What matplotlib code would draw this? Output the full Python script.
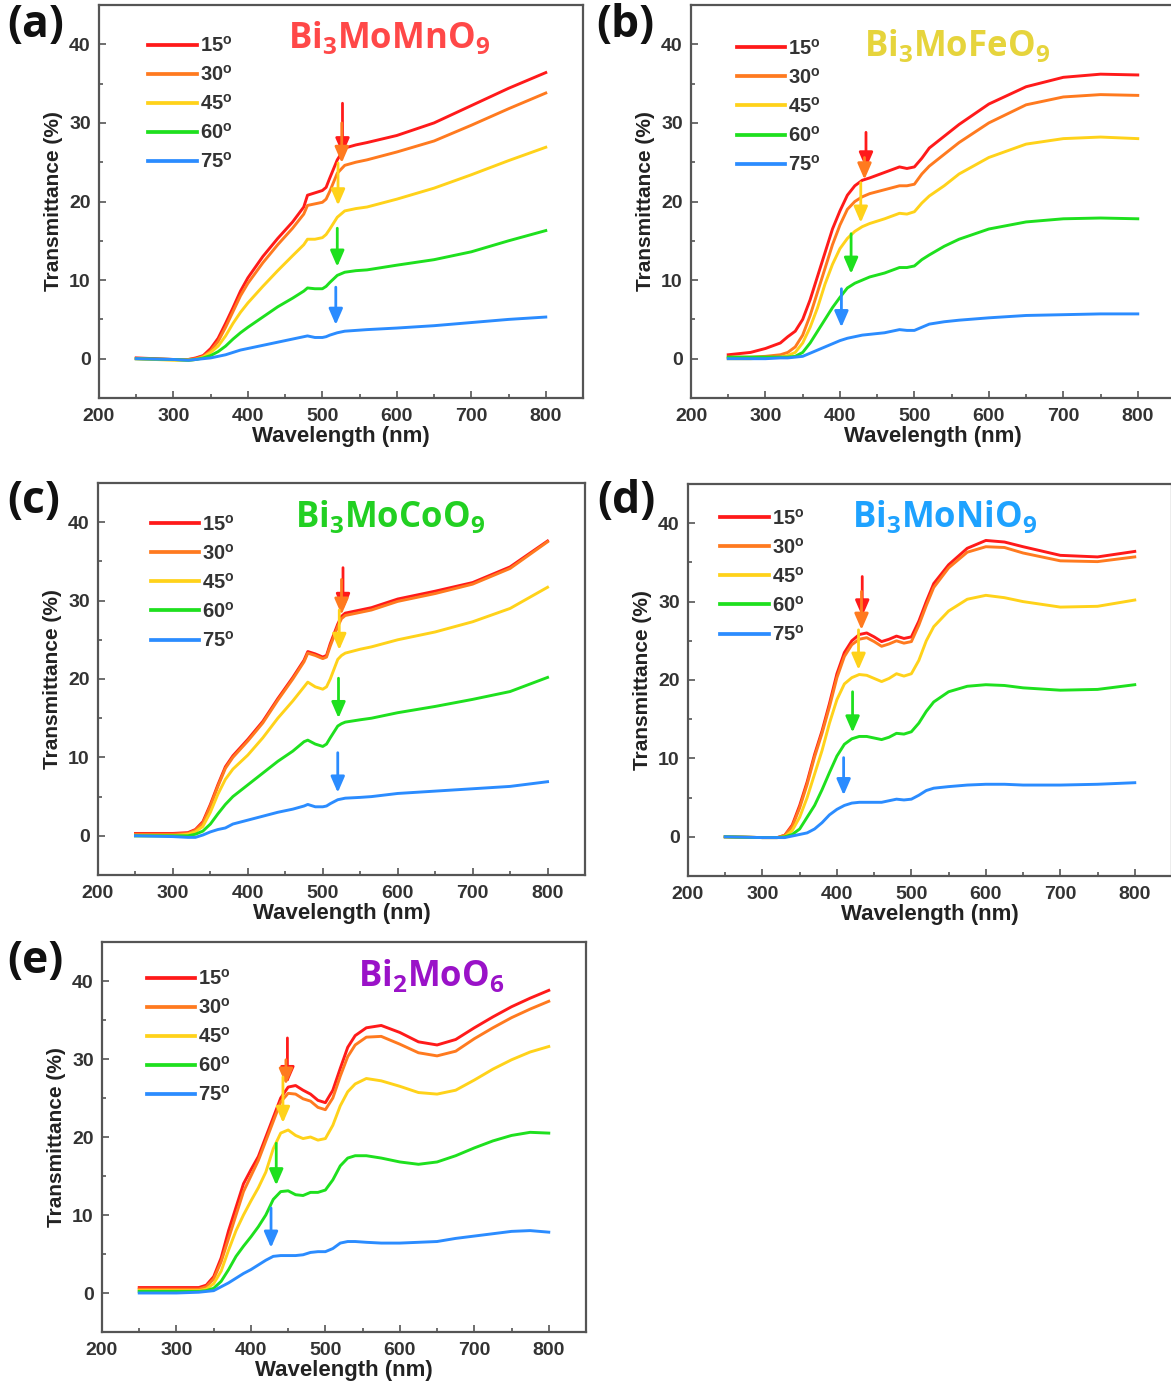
import matplotlib
matplotlib.use("Agg")
import matplotlib.pyplot as plt
from matplotlib.ticker import MultipleLocator

plt.rcParams['font.family'] = ['Liberation Sans', 'DejaVu Sans']
plt.rcParams['font.weight'] = 'bold'

# ---------------------------------------------------------------------------
# Data (transmittance in %, wavelength in nm)
# ---------------------------------------------------------------------------
ANGLES = ["15", "30", "45", "60", "75"]
LINE_COLORS = ['#ff1a1a', '#ff7a1f', '#ffd21a', '#1ee01e', '#2b8cff']

# (a) Bi3MoMnO9
WL_A = [250, 300, 320, 330, 340, 350, 360, 370, 380, 390, 400, 420, 440, 460, 475,
        480, 490, 500, 505, 510, 520, 530, 545, 560, 600, 650, 700, 750, 800]
A_15 = [0.1, -0.1, -0.1, 0.1, 0.4, 1.3, 2.6, 4.5, 6.5, 8.6, 10.3, 13.0, 15.3, 17.4, 19.3,
        20.8, 21.1, 21.4, 21.8, 23.0, 25.3, 26.8, 27.2, 27.5, 28.4, 30.0, 32.2, 34.4, 36.4]
A_30 = [0.0, -0.1, -0.1, 0.0, 0.3, 1.0, 2.2, 4.0, 6.0, 8.0, 9.6, 12.2, 14.5, 16.6, 18.4,
        19.5, 19.7, 19.9, 20.3, 21.3, 23.6, 24.6, 25.0, 25.3, 26.3, 27.7, 29.7, 31.8, 33.8]
A_45 = [0.0, -0.2, -0.2, -0.1, 0.2, 0.8, 1.6, 2.9, 4.5, 5.9, 7.1, 9.2, 11.2, 13.1, 14.5,
        15.2, 15.2, 15.4, 15.8, 16.5, 18.0, 18.8, 19.1, 19.3, 20.3, 21.7, 23.4, 25.2, 26.9]
A_60 = [0.0, -0.1, -0.2, -0.1, 0.1, 0.4, 0.9, 1.6, 2.5, 3.3, 4.0, 5.3, 6.6, 7.7, 8.6,
        9.0, 8.9, 8.9, 9.2, 9.7, 10.6, 11.0, 11.2, 11.3, 11.9, 12.6, 13.6, 15.0, 16.3]
A_75 = [0.0, -0.1, -0.2, -0.1, 0.0, 0.1, 0.3, 0.5, 0.8, 1.1, 1.3, 1.7, 2.1, 2.5, 2.8,
        2.9, 2.7, 2.7, 2.8, 3.0, 3.3, 3.5, 3.6, 3.7, 3.9, 4.2, 4.6, 5.0, 5.3]
ARROW_X_A = [527, 526, 521, 520, 518]
ARROW_TOP_A = [32.5, 30.0, 24.9, 16.6, 9.1]
ARROW_TIP_A = [26.0, 24.9, 19.5, 11.7, 4.3]

# (b) Bi3MoFeO9
WL_B = [250, 280, 300, 320, 330, 340, 350, 360, 370, 380, 390, 400, 410, 420, 430,
        440, 460, 480, 490, 500, 510, 520, 540, 560, 600, 650, 700, 750, 800]
B_15 = [0.5, 0.8, 1.3, 2.0, 2.8, 3.5, 5.0, 7.5, 10.5, 13.5, 16.5, 18.8, 20.8, 22.0, 22.7,
        23.0, 23.7, 24.4, 24.2, 24.4, 25.5, 26.8, 28.3, 29.8, 32.4, 34.6, 35.8, 36.2, 36.1]
B_30 = [0.2, 0.2, 0.3, 0.5, 0.8, 1.5, 3.0, 5.5, 8.5, 11.5, 14.5, 17.0, 19.0, 20.0, 20.6,
        21.0, 21.5, 22.0, 22.0, 22.2, 23.5, 24.5, 26.0, 27.5, 30.0, 32.3, 33.3, 33.6, 33.5]
B_45 = [0.0, 0.0, 0.1, 0.2, 0.4, 0.8, 2.0, 4.0, 6.5, 9.5, 12.0, 14.0, 15.3, 16.2, 16.8,
        17.2, 17.8, 18.5, 18.4, 18.7, 19.8, 20.7, 22.0, 23.5, 25.6, 27.3, 28.0, 28.2, 28.0]
B_60 = [0.2, 0.2, 0.2, 0.2, 0.2, 0.3, 0.8, 2.0, 3.5, 5.0, 6.5, 7.8, 9.0, 9.6, 10.0,
        10.4, 10.9, 11.6, 11.6, 11.8, 12.6, 13.2, 14.3, 15.2, 16.5, 17.4, 17.8, 17.9, 17.8]
B_75 = [0.0, 0.0, 0.0, 0.1, 0.1, 0.2, 0.3, 0.7, 1.1, 1.5, 1.9, 2.3, 2.6, 2.8, 3.0,
        3.1, 3.3, 3.7, 3.6, 3.6, 4.0, 4.4, 4.7, 4.9, 5.2, 5.5, 5.6, 5.7, 5.7]
ARROW_X_B = [435, 433, 428, 415, 402]
ARROW_TOP_B = [28.8, 25.6, 22.4, 15.9, 8.9]
ARROW_TIP_B = [24.2, 22.8, 17.3, 10.8, 4.0]

# (c) Bi3MoCoO9
WL_C = [250, 300, 320, 330, 340, 350, 360, 370, 380, 400, 420, 440, 460, 475, 480,
        490, 500, 505, 510, 520, 525, 530, 550, 565, 600, 650, 700, 750, 800]
C_15 = [0.3, 0.3, 0.4, 0.8, 1.8, 4.0, 6.5, 8.8, 10.2, 12.3, 14.6, 17.5, 20.2, 22.4, 23.5,
        23.2, 22.8, 23.0, 24.5, 27.0, 28.0, 28.4, 28.8, 29.1, 30.2, 31.2, 32.3, 34.3, 37.6]
C_30 = [0.2, 0.2, 0.3, 0.7, 1.6, 3.8, 6.3, 8.6, 10.0, 12.1, 14.4, 17.3, 20.0, 22.2, 23.3,
        23.0, 22.6, 22.8, 24.2, 26.7, 27.7, 28.1, 28.5, 28.8, 29.9, 30.9, 32.1, 34.1, 37.5]
C_45 = [0.0, 0.0, 0.2, 0.5, 1.2, 3.0, 5.3, 7.2, 8.5, 10.3, 12.5, 15.0, 17.2, 19.0, 19.6,
        19.0, 18.7, 19.0, 20.0, 22.5, 23.0, 23.3, 23.8, 24.1, 25.0, 26.0, 27.3, 29.0, 31.7]
C_60 = [0.0, 0.0, 0.0, 0.2, 0.6, 1.5, 2.8, 4.0, 5.0, 6.5, 8.0, 9.5, 10.8, 12.0, 12.2,
        11.7, 11.4, 11.7, 12.5, 14.0, 14.3, 14.5, 14.8, 15.0, 15.7, 16.5, 17.4, 18.4, 20.2]
C_75 = [0.0, -0.1, -0.2, -0.2, 0.1, 0.5, 0.8, 1.0, 1.5, 2.0, 2.5, 3.0, 3.4, 3.8, 4.0,
        3.7, 3.7, 3.8, 4.1, 4.6, 4.7, 4.8, 4.9, 5.0, 5.4, 5.7, 6.0, 6.3, 6.9]
ARROW_X_C = [527, 525, 522, 521, 520]
ARROW_TOP_C = [34.2, 32.7, 28.8, 20.1, 10.6]
ARROW_TIP_C = [28.8, 28.2, 23.7, 15.0, 5.5]

# (d) Bi3MoNiO9
WL_D = [250, 300, 320, 330, 340, 350, 360, 370, 380, 390, 400, 410, 420, 430, 440, 450,
        460, 470, 480, 490, 500, 510, 520, 530, 550, 575, 600, 625, 650, 700, 750, 800]
D_15 = [0.0, -0.1, -0.1, 0.2, 1.5, 4.0, 7.0, 10.5, 13.5, 17.0, 20.8, 23.5, 25.0, 25.8, 26.0, 25.5,
        24.9, 25.2, 25.6, 25.3, 25.5, 27.5, 30.0, 32.3, 34.7, 36.8, 37.8, 37.6, 37.0, 35.9, 35.7, 36.4]
D_30 = [0.0, -0.1, -0.1, 0.2, 1.3, 3.7, 6.7, 10.2, 13.2, 16.6, 20.3, 23.0, 24.5, 25.2, 25.4, 24.9,
        24.3, 24.6, 25.0, 24.7, 24.9, 27.0, 29.5, 31.8, 34.3, 36.3, 37.0, 36.9, 36.2, 35.2, 35.1, 35.7]
D_45 = [0.0, -0.1, -0.1, 0.0, 0.8, 2.5, 5.0, 8.0, 11.0, 14.5, 17.5, 19.5, 20.3, 20.7, 20.6, 20.2,
        19.8, 20.2, 20.8, 20.5, 20.8, 22.5, 25.0, 26.8, 28.8, 30.3, 30.8, 30.5, 30.0, 29.3, 29.4, 30.2]
D_60 = [0.0, -0.1, -0.1, 0.0, 0.3, 1.0, 2.5, 4.0, 6.0, 8.2, 10.3, 11.8, 12.5, 12.8, 12.8, 12.6,
        12.4, 12.7, 13.2, 13.1, 13.4, 14.5, 16.0, 17.2, 18.5, 19.2, 19.4, 19.3, 19.0, 18.7, 18.8, 19.4]
D_75 = [0.0, -0.1, -0.1, -0.1, 0.1, 0.3, 0.5, 1.0, 1.8, 2.8, 3.5, 4.0, 4.3, 4.4, 4.4, 4.4,
        4.4, 4.6, 4.8, 4.7, 4.8, 5.3, 5.9, 6.2, 6.4, 6.6, 6.7, 6.7, 6.6, 6.6, 6.7, 6.9]
ARROW_X_D = [434, 433, 429, 421, 409]
ARROW_TOP_D = [33.2, 31.3, 26.4, 18.5, 10.1]
ARROW_TIP_D = [28.1, 26.4, 21.3, 13.3, 5.3]

# (e) Bi2MoO6
WL_E = [250, 300, 330, 340, 350, 360, 370, 380, 390, 400, 410, 420, 430, 440, 450, 460, 470,
        480, 490, 500, 510, 520, 530, 540, 555, 575, 600, 625, 650, 675, 700, 725, 750, 775, 800]
E_15 = [0.7, 0.7, 0.7, 1.0, 2.1, 4.5, 8.0, 11.0, 14.0, 15.8, 17.5, 20.0, 22.5, 25.0, 26.4, 26.6, 26.0,
        25.5, 24.7, 24.4, 26.0, 28.8, 31.5, 33.0, 34.0, 34.3, 33.4, 32.2, 31.8, 32.5, 34.0, 35.4,
        36.7, 37.8, 38.8]
E_30 = [0.5, 0.5, 0.5, 0.8, 1.8, 4.0, 7.0, 10.0, 13.0, 15.0, 17.0, 19.5, 22.0, 24.5, 25.6, 25.5, 24.9,
        24.6, 23.8, 23.5, 25.0, 27.8, 30.3, 31.8, 32.8, 32.9, 31.9, 30.8, 30.4, 31.0, 32.6, 34.0,
        35.3, 36.4, 37.4]
E_45 = [0.3, 0.3, 0.3, 0.5, 1.2, 2.8, 5.5, 8.0, 10.0, 11.8, 13.5, 15.5, 18.5, 20.5, 20.9, 20.2, 19.8,
        20.0, 19.6, 19.8, 21.5, 24.0, 25.8, 26.8, 27.5, 27.2, 26.5, 25.7, 25.5, 26.0, 27.3, 28.7,
        29.9, 30.9, 31.6]
E_60 = [0.2, 0.2, 0.2, 0.3, 0.6, 1.5, 3.0, 4.7, 6.0, 7.2, 8.5, 10.0, 12.0, 13.0, 13.1, 12.6, 12.5,
        12.9, 12.9, 13.2, 14.5, 16.3, 17.3, 17.6, 17.6, 17.3, 16.8, 16.5, 16.8, 17.6, 18.6, 19.5,
        20.2, 20.6, 20.5]
E_75 = [0.0, 0.0, 0.1, 0.2, 0.3, 0.8, 1.3, 1.9, 2.5, 3.0, 3.6, 4.2, 4.7, 4.8, 4.8, 4.8, 4.9,
        5.2, 5.3, 5.3, 5.7, 6.4, 6.6, 6.6, 6.5, 6.4, 6.4, 6.5, 6.6, 7.0, 7.3, 7.6,
        7.9, 8.0, 7.8]
ARROW_X_E = [449, 447, 443, 434, 427]
ARROW_TOP_E = [32.7, 29.9, 27.7, 19.2, 10.9]
ARROW_TIP_E = [26.9, 26.7, 21.8, 13.8, 5.8]

PANELS = [
    ("(a)", r"Bi$_\mathregular{3}$MoMnO$_\mathregular{9}$", '#ff4848',
     WL_A, [A_15, A_30, A_45, A_60, A_75], ARROW_X_A, ARROW_TOP_A, ARROW_TIP_A),
    ("(b)", r"Bi$_\mathregular{3}$MoFeO$_\mathregular{9}$", '#e6d43c',
     WL_B, [B_15, B_30, B_45, B_60, B_75], ARROW_X_B, ARROW_TOP_B, ARROW_TIP_B),
    ("(c)", r"Bi$_\mathregular{3}$MoCoO$_\mathregular{9}$", '#22d022',
     WL_C, [C_15, C_30, C_45, C_60, C_75], ARROW_X_C, ARROW_TOP_C, ARROW_TIP_C),
    ("(d)", r"Bi$_\mathregular{3}$MoNiO$_\mathregular{9}$", '#1ea2ff',
     WL_D, [D_15, D_30, D_45, D_60, D_75], ARROW_X_D, ARROW_TOP_D, ARROW_TIP_D),
    ("(e)", r"Bi$_\mathregular{2}$MoO$_\mathregular{6}$", '#9a12c8',
     WL_E, [E_15, E_30, E_45, E_60, E_75], ARROW_X_E, ARROW_TOP_E, ARROW_TIP_E),
]

# ---------------------------------------------------------------------------
# Layout (pixel measurements of the reference, 1171 x 1388)
# ---------------------------------------------------------------------------
W, H = 1171, 1388
# left, top, right, bottom of each frame in pixels
FRAMES = [(99, 5, 583, 398), (691, 5, 1175, 398), (98, 483, 585, 875),
          (688, 484, 1172, 876), (102, 942, 586, 1332)]
LABEL_POS = [(7, 26), (596, 26), (7, 502), (597, 502), (7, 962)]
TITLE_POS = [(0.60, 0.915), (0.55, 0.895), (0.60, 0.912), (0.53, 0.915), (0.68, 0.912)]
LEGEND_POS = [(0.102, 0.922), (0.095, 0.915), (0.108, 0.920), (0.067, 0.938), (0.092, 0.931)]

fig = plt.figure(figsize=(W / 100, H / 100), dpi=100)
frame_color = '#555555'
tick_color = '#333333'

for i, (tag, formula, fcolor, wl, series, ax_x, ax_top, ax_tip) in enumerate(PANELS):
    l, t, r, b = FRAMES[i]
    ax = fig.add_axes([l / W, 1 - b / H, (r - l) / W, (b - t) / H])

    for ang, vals, col in zip(ANGLES, series, LINE_COLORS):
        ax.plot(wl, vals, color=col, lw=2.1, label=r"$\mathregular{" + ang + "^o}$",
                solid_joinstyle='round')

    for x, y0, y1, col in zip(ax_x, ax_top, ax_tip, LINE_COLORS):
        ax.annotate('', xy=(x, y1), xytext=(x, y0),
                    arrowprops=dict(arrowstyle='-|>,head_length=0.6,head_width=0.26',
                                    color=col, lw=2.0, mutation_scale=16,
                                    shrinkA=0, shrinkB=0))

    ax.set_xlim(200, 850)
    ax.set_ylim(-5, 45)
    ax.xaxis.set_major_locator(MultipleLocator(100))
    ax.xaxis.set_minor_locator(MultipleLocator(50))
    ax.yaxis.set_major_locator(MultipleLocator(10))
    ax.yaxis.set_minor_locator(MultipleLocator(5))
    ax.set_xticks(range(200, 801, 100))
    ax.set_yticks(range(0, 41, 10))
    ax.tick_params(which='both', direction='in', colors=frame_color, width=1.2,
                   labelcolor=tick_color, labelsize=14)
    ax.tick_params(which='major', length=5, pad=6)
    ax.tick_params(which='minor', length=3)
    ax.tick_params(axis='x', which='major', pad=7)
    for lab in ax.get_xticklabels() + ax.get_yticklabels():
        lab.set_fontweight('bold')
    for sp in ax.spines.values():
        sp.set_color(frame_color)
        sp.set_linewidth(1.6)

    ax.set_xlabel('Wavelength (nm)', fontsize=16, fontweight='bold', color='#222222', labelpad=1)
    ax.set_ylabel('Transmittance (%)', fontsize=15, fontweight='bold', color='#222222', labelpad=4)

    leg = ax.legend(loc='upper left', bbox_to_anchor=LEGEND_POS[i], frameon=False,
                    borderpad=0, borderaxespad=0, handlelength=2.4, handletextpad=0.15,
                    labelspacing=0.45, prop={'weight': 'bold', 'size': 14.5})
    for txt in leg.get_texts():
        txt.set_color(tick_color)
    for ln in leg.get_lines():
        ln.set_linewidth(2.7)

    tx, ty = TITLE_POS[i]
    ax.text(tx, ty, formula, transform=ax.transAxes, ha='center', va='center',
            fontsize=25, fontweight='bold', color=fcolor, family=['Open Sans', 'DejaVu Sans'])

    px, py = LABEL_POS[i]
    fig.text(px / W, 1 - py / H, tag, ha='left', va='center', fontsize=32,
             fontweight='bold', color='#111111', family=['Open Sans', 'DejaVu Sans'])

fig.savefig('out.png', dpi=100, facecolor='white')
